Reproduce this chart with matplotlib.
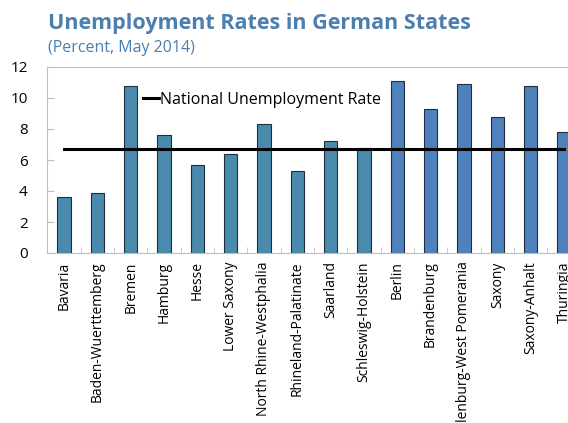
import matplotlib.pyplot as plt
from matplotlib.ticker import MultipleLocator

states = ['Bavaria', 'Baden-Wuerttemberg', 'Bremen', 'Hamburg', 'Hesse', 'Lower Saxony',
          'North Rhine-Westphalia', 'Rhineland-Palatinate', 'Saarland', 'Schleswig-Holstein',
          'Berlin', 'Brandenburg', 'Mecklenburg-West Pomerania', 'Saxony', 'Saxony-Anhalt',
          'Thuringia']
rates = [3.6, 3.9, 10.8, 7.6, 5.7, 6.4, 8.3, 5.3, 7.2, 6.8,
         11.1, 9.3, 10.9, 8.8, 10.8, 7.8]
east = [False] * 10 + [True] * 6
national_rate = 6.7

west_color = '#4A8BAD'
east_color = '#4F81BD'
title_color = '#4A7FB0'
grey = '#BFBFBF'

plt.rcParams['font.family'] = ['Open Sans', 'DejaVu Sans']

fig = plt.figure(figsize=(5.68, 4.23), dpi=100)
ax = fig.add_axes([47.3 / 568, 1 - 253 / 423, 533.3 / 568, 186 / 423])

x = list(range(len(states)))
colors = [east_color if e else west_color for e in east]
ax.bar(x, rates, width=0.4, color=colors, edgecolor='#1F2F3F', linewidth=0.8, zorder=2)
ax.plot([0, len(states) - 1], [national_rate, national_rate], color='black', linewidth=2.2,
        label='National Unemployment Rate', zorder=3)

ax.set_xlim(-0.5, len(states) - 0.5)
ax.set_ylim(0, 12)
ax.yaxis.set_major_locator(MultipleLocator(2))
ax.set_xticks(x)
ax.set_xticklabels(states, rotation=90, fontsize=10)
ax.set_xticks([i + 0.5 for i in x], minor=True)
ax.tick_params(axis='x', which='major', length=0, pad=6)
ax.tick_params(axis='x', which='minor', direction='in', length=4, color=grey)
ax.tick_params(axis='y', direction='in', length=5, color=grey, labelsize=11, pad=14)
for side in ['left', 'bottom', 'top', 'right']:
    ax.spines[side].set_color(grey)

ax.legend(loc='center left', bbox_to_anchor=(0.179, 0.823), frameon=False, fontsize=11.5,
          handlelength=1.0, handletextpad=0.1, borderaxespad=0, borderpad=0)

fig.text(48 / 568, 1 - 24 / 423, 'Unemployment Rates in German States', color=title_color,
         fontsize=15.5, fontweight='bold', va='center')
fig.text(48 / 568, 1 - 48 / 423, '(Percent, May 2014)', color=title_color, fontsize=11.5,
         va='center')

fig.savefig('out.png', dpi=100)
